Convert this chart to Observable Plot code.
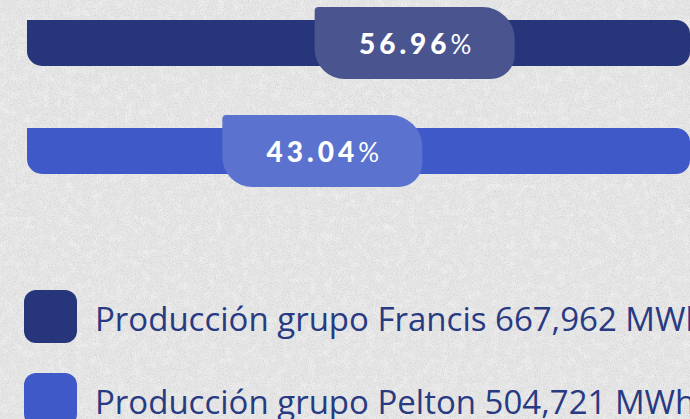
<!DOCTYPE html>
<html>
<head>
<meta charset="utf-8">
<script src="https://cdn.jsdelivr.net/npm/d3@7"></script>
<script src="https://cdn.jsdelivr.net/npm/@observablehq/plot@0.6"></script>
<style>
  html, body { margin: 0; padding: 0; }
  body { width: 690px; height: 419px; overflow: hidden; background-color: #e7e7e7; position: relative; }
  #chart svg { display: block; background: transparent; }
  .legend-row { display: flex; align-items: center; height: 53px; margin-bottom: 30px; }
  .swatch { flex: 0 0 53px; width: 53px; height: 53px; border-radius: 12px; margin-left: 24px; margin-right: 18px; }
  .legend-text { flex: 0 0 auto; white-space: nowrap; font-family: "Open Sans", sans-serif; font-size: 33px; line-height: 1; color: #283a82; position: relative; top: 2px; }
  #legend { margin-top: 22px; }
</style>
</head>
<body>
<div id="chart"></div>
<div id="legend"></div>
<script>
// ---- data ----
const categories = ["Francis", "Pelton"];
const shares = [56.96, 43.04];           // %
const production = [667962, 504721];     // MWh
const barColors = ["#27367a", "#3f59c8"];
const pillColors = ["#4a5590", "#5b73cf"];

const data = categories.map((c, i) => ({category: c, share: shares[i], bar: barColors[i], pill: pillColors[i]}));

// paper texture
const noise = `<svg xmlns='http://www.w3.org/2000/svg' width='690' height='419'>
<filter id='n'><feTurbulence type='fractalNoise' baseFrequency='0.85' numOctaves='3' seed='4'/><feColorMatrix values='0 0 0 0 0.5 0 0 0 0 0.5 0 0 0 0 0.5 1.0 0 0 0 -0.42'/></filter>
<filter id='w'><feTurbulence type='fractalNoise' baseFrequency='0.12' numOctaves='3' seed='9'/><feColorMatrix values='0 0 0 0 1 0 0 0 0 1 0 0 0 0 1 0 0.9 0 0 -0.4'/></filter>
<rect width='100%' height='100%' filter='url(#w)'/><rect width='100%' height='100%' filter='url(#n)'/></svg>`;
document.body.style.backgroundImage = `url("data:image/svg+xml,${encodeURIComponent(noise)}")`;

function roundedRect(x0, y0, x1, y1, tl, tr, br, bl) {
  return `M${x0 + tl},${y0}H${x1 - tr}A${tr},${tr} 0 0 1 ${x1},${y0 + tr}V${y1 - br}A${br},${br} 0 0 1 ${x1 - br},${y1}H${x0 + bl}A${bl},${bl} 0 0 1 ${x0},${y1 - bl}V${y0 + tl}A${tl},${tl} 0 0 1 ${x0 + tl},${y0}Z`;
}

const pillShift = 10, pillW = 200, pillH = 72;

function bars(index, scales) {
  const {x, y} = scales;
  const bw = typeof y.bandwidth === "function" ? y.bandwidth() : y.bandwidth;
  const [d0, d1] = x.domain();
  const g = d3.create("svg:g");
  for (const d of data) {
    const top = y(d.category), bottom = top + bw, cy = top + bw / 2;
    g.append("path").attr("d", roundedRect(x(d0), top, x(d1), bottom, 0, 14, 14, 15)).attr("fill", d.bar);
    const cx = x(d.share) + pillShift;
    g.append("path")
      .attr("d", roundedRect(cx - pillW / 2, cy - pillH / 2, cx + pillW / 2, cy + pillH / 2, 4, 32, 24, 30))
      .attr("fill", d.pill);
  }
  return g.node();
}

const fmt = d3.format(".2f");

const chart = Plot.plot({
  width: 690,
  height: 268,
  margin: 0,
  style: {background: "transparent", overflow: "visible"},
  x: {domain: [0, 100], range: [27, 690], axis: null},
  y: {type: "band", domain: categories, range: [20, 174], paddingInner: 0.574, paddingOuter: 0, round: false, axis: null},
  marks: [
    bars,
    Plot.text(data, {
      x: "share", y: "category", dx: pillShift, dy: 2,
      text: d => fmt(d.share) + "%",
      fill: "white", fontSize: 28, fontWeight: 900, fontFamily: "Lato, sans-serif"
    })
  ]
});
document.getElementById("chart").append(chart);

// split number and % sign into differently weighted spans
d3.select(chart).selectAll("g[aria-label='text'] text").each(function () {
  const s = this.textContent;
  const num = s.replace("%", "");
  const t = d3.select(this);
  t.text(null);
  t.append("tspan").attr("letter-spacing", "4px").text(num);
  t.append("tspan").attr("font-weight", 400).attr("font-size", 26).text("%");
});

// legend
const legend = d3.select("#legend");
categories.forEach((c, i) => {
  const row = legend.append("div").attr("class", "legend-row");
  row.append("div").attr("class", "swatch").style("background", barColors[i]);
  row.append("div").attr("class", "legend-text")
    .text(`Producción grupo ${c} ${d3.format(",")(production[i])} MWh`);
});
</script>
</body>
</html>
